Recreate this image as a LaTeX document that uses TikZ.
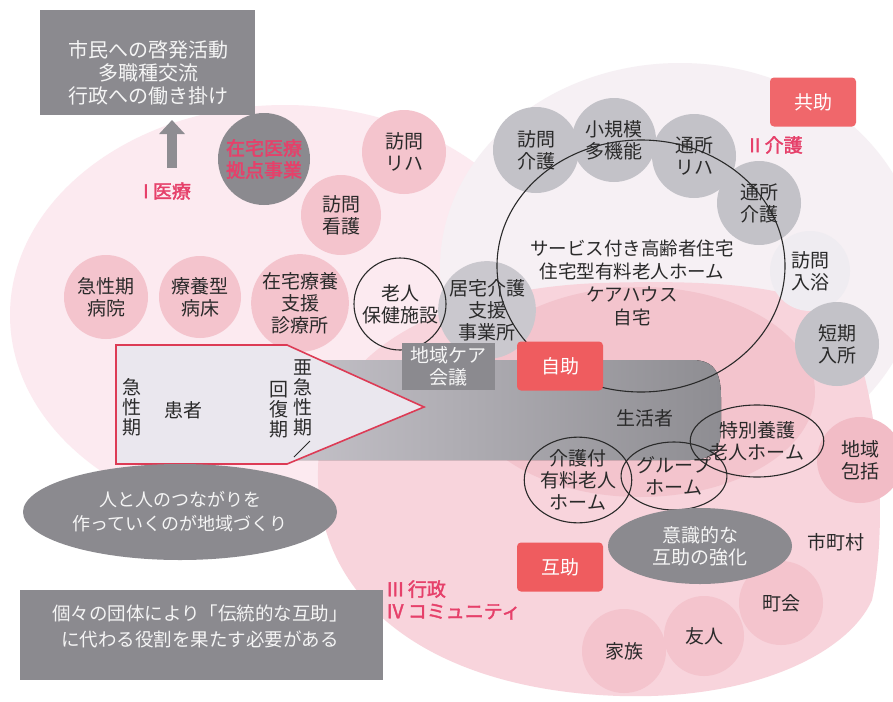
\documentclass[tikz,border=0pt]{standalone}
\usepackage{fontspec}
\newfontfamily\J[AutoFakeBold=2]{Noto Sans CJK JP}
\usetikzlibrary{arrows.meta,shapes.geometric}
\newcommand\myfs[2]{\fontsize{#1}{#2}\selectfont}
\definecolor{palepink}{HTML}{FCEAF0}
\definecolor{paleright}{HTML}{F6F0F4}
\definecolor{lowpink}{HTML}{F8D4DC}
\definecolor{midpink}{HTML}{F3C4CD}
\definecolor{cpink}{HTML}{F4C4CD}
\definecolor{cpinktwo}{HTML}{F2BCC6}
\definecolor{cgrey}{HTML}{C3C2C8}
\definecolor{cgreytwo}{HTML}{CAC8CE}
\definecolor{faintc}{HTML}{EFECF1}
\definecolor{dgrey}{HTML}{8B8A8F}
\definecolor{arrowgrey}{HTML}{8E8D92}
\definecolor{redbox}{HTML}{EF5C5F}
\definecolor{redboxtwo}{HTML}{F0676B}
\definecolor{redtxt}{HTML}{E6406A}
\definecolor{pentfill}{HTML}{EAE7EE}
\definecolor{pentline}{HTML}{DD3B55}
\definecolor{bandL}{HTML}{CFCCD3}
\definecolor{bandR}{HTML}{8E8D92}
\definecolor{wtxt}{HTML}{F5F5F5}
\definecolor{ink}{HTML}{2A2A2A}
\begin{document}
\begin{tikzpicture}[x=1pt,y=-1pt,
 every node/.style={inner sep=0pt, outer sep=0pt, align=center, text=ink, font=\J\myfs{19}{22}},
 pinkc/.style={circle, fill=cpink, minimum size=84pt},
 greyc/.style={circle, fill=cgrey, minimum size=84pt},
 ringo/.style={ellipse, draw=ink, line width=1.1pt},
 redbx/.style={rectangle, rounded corners=4pt, fill=redbox, text=white, minimum width=86pt, minimum height=49pt},
 darkbx/.style={rectangle, fill=dgrey, text=wtxt},
 redlab/.style={text=redtxt, font=\J\bfseries\myfs{19}{22}},
 vtext/.style={font=\J\myfs{19}{20}}
]
\useasboundingbox (0,0) rectangle (893,701);
\fill[white] (0,0) rectangle (893,701);
% background regions
\fill[palepink] (285,315) ellipse [x radius=275pt, y radius=210pt];
\fill[paleright] (680,268) ellipse [x radius=240pt, y radius=205pt];
\fill[lowpink] (318,470) .. controls (315,600) and (430,690) .. (620,696)
  .. controls (760,700) and (850,650) .. (872,600)
  .. controls (885,540) and (885,420) .. (850,330)
  .. controls (820,282) and (700,280) .. (600,283)
  .. controls (480,287) and (320,330) .. (318,470) -- cycle;
\fill[midpink] (640,392) ellipse [x radius=175pt, y radius=105pt];

% circles
\node[pinkc] (rh) at (404,152) {訪問\\リハ};
\node[pinkc, minimum size=80pt] (kg) at (341,215) {訪問\\看護};
\node[circle, fill=dgrey, minimum size=92pt, redlab] (zt) at (264,159) {在宅医療\\拠点事業};
\node[pinkc] (kb) at (106,297) {急性期\\病院};
\node[pinkc, minimum size=82pt] (ry) at (200,297) {療養型\\病床};
\node[pinkc, minimum size=86pt] (zs) at (300,303) {在宅療養\\支援\\診療所};
\node[greyc, minimum size=86pt] (hkg) at (536,150) {訪問\\介護};
\node[greyc] (sk) at (614,140) {小規模\\多機能};
\node[greyc] (tr) at (694,156) {通所\\リハ};
\node[greyc] (tk) at (759,203) {通所\\介護};
\node[circle, fill=faintc, minimum size=80pt] (hn) at (810,271) {訪問\\入浴};
\node[greyc] (tn) at (837,344) {短期\\入所};
\node[pinkc, fill=cpinktwo, minimum size=86pt] (cs) at (860,460) {地域\\包括};
\node[greyc, fill=cgreytwo, minimum size=88pt] (kt) at (487,310) {居宅介護\\支援\\事業所};
\node[pinkc] (fam) at (624,651) {家族};
\node[pinkc, minimum size=80pt] (fr) at (704,636) {友人};
\node[pinkc] (ch) at (781,603) {町会};

% grey band
\fill[left color=bandL, right color=bandR] (200,360) -- (692,360)
  .. controls (716,360) and (721,375) .. (721,398) -- (721,428)
  .. controls (721,452) and (710,460) .. (690,460) -- (200,460) -- cycle;

% patient pentagon
\filldraw[fill=pentfill, draw=pentline, line width=1.6pt, line join=miter]
  (116,345) -- (287,345) -- (424,407) -- (287,464) -- (116,464) -- cycle;
\node[vtext] (kst) at (132,407) {急\\性\\期};
\node (kja) at (183,410) {患者};
\node[vtext] (kfk) at (279,410) {回\\復\\期};
\node[vtext] (akt) at (303,398) {亜\\急\\性\\期};
\draw[ink, line width=0.8pt] (310,441) -- (294,457);

% ring
\draw[ink, line width=1.1pt] (641,266) ellipse [x radius=144pt, y radius=126pt];
\node[font=\J\myfs{18.5}{23}] (svc) at (632,283) {サービス付き高齢者住宅\\住宅型有料老人ホーム\\ケアハウス\\自宅};

% outlined facilities
\node[ringo, circle, minimum size=92pt] (rj) at (400,304) {老人\\保健施設};
\node[ringo, minimum width=104pt, minimum height=80pt] (kty) at (578,480) {介護付\\有料老人\\ホーム};
\node[ringo, minimum width=86pt, minimum height=68pt] (gh) at (674,476) {グループ\\ホーム};
\node[ringo, minimum width=108pt, minimum height=72pt] (tb) at (757,441) {特別養護\\老人ホーム};

% boxes
\node[darkbx, minimum width=93pt, minimum height=47pt] (cc) at (448,366) {地域ケア\\会議};
\node[redbx] (jj) at (560,366) {自助};
\node[redbx] (gj) at (560,567) {互助};
\node[redbx, fill=redboxtwo] (kj) at (813,102) {共助};
\node (sks) at (645,418) {生活者};

\node[ellipse, fill=dgrey, text=wtxt, minimum width=184pt, minimum height=76pt] (ish) at (700,546) {意識的な\\互助の強化};
\node (sc) at (836,542) {市町村};

% top box and arrow
\node[darkbx, minimum width=215pt, minimum height=105pt] (tbox) at (147.5,62.5) {};
\node[text=wtxt, font=\J\myfs{20}{23}] (tbt) at (148,73) {市民への啓発活動\\多職種交流\\行政への働き掛け};
\coordinate (ab) at (172,168);
\draw[line width=10pt, draw=arrowgrey, shorten >=5pt, -{Triangle[width=25pt,length=14pt]}] (ab) -- (ab |- tbox.south);

% labels
\node[redlab] (iry) at (167,191) {I 医療};
\node[redlab] (ikg) at (776,145) {II 介護};
\node[redlab, anchor=west, align=left] (gs) at (387,600) {III 行政\\IV コミュニティ};

% bottom left
\node[ellipse, fill=dgrey, text=wtxt, minimum width=314pt, minimum height=96pt, font=\J\myfs{18}{24}] (hh) at (180,512) {人と人のつながりを\\作っていくのが地域づくり};
\node[darkbx, minimum width=363pt, minimum height=90pt] (bb) at (201.5,635) {};
\node[text=wtxt, font=\J\myfs{18.5}{26}] (bbt) at (200,626) {個々の団体により「伝統的な互助」\\に代わる役割を果たす必要がある};
\end{tikzpicture}
\end{document}
